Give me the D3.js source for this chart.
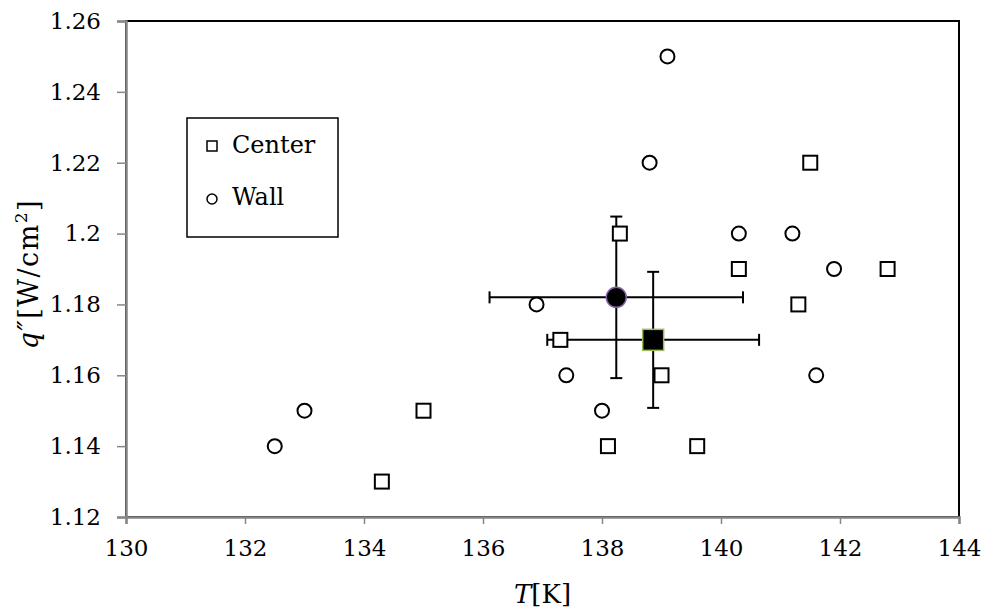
<!DOCTYPE html>
<html>
<head>
<meta charset="utf-8">
<script src="https://cdn.jsdelivr.net/npm/d3@7"></script>
<style>
  html, body { margin: 0; padding: 0; background: #fff; }
  svg { display: block; }
  text { font-family: "DejaVu Serif", "Liberation Serif", serif; fill: #000; }
</style>
</head>
<body>
<svg id="chart" width="987" height="615"></svg>
<script>
// Heat flux vs. temperature, measured at the center and at the wall
const centerT = [134.3, 135.0, 137.3, 138.3, 139.0, 138.1, 139.6, 140.3, 141.3, 141.5, 142.8];
const centerQ = [1.13, 1.15, 1.17, 1.20, 1.16, 1.14, 1.14, 1.19, 1.18, 1.22, 1.19];
const wallT = [132.5, 133.0, 136.9, 137.4, 138.0, 138.8, 139.1, 140.3, 141.2, 141.9, 141.6];
const wallQ = [1.14, 1.15, 1.18, 1.16, 1.15, 1.22, 1.25, 1.20, 1.20, 1.19, 1.16];

// Averages with their error ranges
const meanNames = ["Wall", "Center"];
const meanT = [138.24, 138.86];
const meanQ = [1.182, 1.170];
const errT = [2.13, 1.78];
const errQ = [0.0228, 0.0192];

const xTicks = [130, 132, 134, 136, 138, 140, 142, 144];
const yTicks = [1.12, 1.14, 1.16, 1.18, 1.2, 1.22, 1.24, 1.26];
const legendLabels = ["Center", "Wall"];

const svg = d3.select("#chart");
const x = d3.scaleLinear().domain([130, 144]).range([126, 959]);
const y = d3.scaleLinear().domain([1.12, 1.26]).range([517, 21]);

const axisGrey = "#868686";

// plot frame (top and right)
svg.append("rect")
  .attr("x", x(130)).attr("y", y(1.26))
  .attr("width", x(144) - x(130)).attr("height", y(1.12) - y(1.26))
  .attr("fill", "none").attr("stroke", "#000").attr("stroke-width", 2);

// axes
const xAxis = svg.append("g")
  .attr("transform", `translate(0,${y(1.12)})`)
  .call(d3.axisBottom(x).tickValues(xTicks).tickSize(7).tickPadding(16).tickFormat(d3.format("d")));
const yAxis = svg.append("g")
  .attr("transform", `translate(${x(130)},0)`)
  .call(d3.axisLeft(y).tickValues(yTicks).tickSize(9).tickPadding(16).tickFormat(d => d3.format("")(+d.toFixed(2))));
[xAxis, yAxis].forEach(g => {
  g.select(".domain").attr("stroke", axisGrey).attr("stroke-width", 2.5);
  g.selectAll(".tick line").attr("stroke", axisGrey).attr("stroke-width", 1.5);
  g.selectAll(".tick text")
    .style("font-family", '"DejaVu Serif", serif')
    .style("font-size", "23px").attr("fill", "#000");
});

// error bars
const capW = 6, capH = 6;
const eb = svg.append("g").attr("stroke", "#000").attr("stroke-width", 2).attr("fill", "none");
meanT.forEach((t, i) => {
  const cx = x(t), cy = y(meanQ[i]);
  const x0 = x(t - errT[i]), x1 = x(t + errT[i]);
  const y0 = y(meanQ[i] + errQ[i]), y1 = y(meanQ[i] - errQ[i]);
  eb.append("line").attr("x1", x0).attr("x2", x1).attr("y1", cy).attr("y2", cy);
  eb.append("line").attr("x1", x0).attr("x2", x0).attr("y1", cy - capH).attr("y2", cy + capH);
  eb.append("line").attr("x1", x1).attr("x2", x1).attr("y1", cy - capH).attr("y2", cy + capH);
  eb.append("line").attr("x1", cx).attr("x2", cx).attr("y1", y0).attr("y2", y1);
  eb.append("line").attr("x1", cx - capW).attr("x2", cx + capW).attr("y1", y0).attr("y2", y0);
  eb.append("line").attr("x1", cx - capW).attr("x2", cx + capW).attr("y1", y1).attr("y2", y1);
});

// center measurements: open squares
const sq = 14;
svg.append("g").selectAll("rect").data(centerT).join("rect")
  .attr("x", (d) => x(d) - sq / 2)
  .attr("y", (d, i) => y(centerQ[i]) - sq / 2)
  .attr("width", sq).attr("height", sq)
  .attr("fill", "#fff").attr("stroke", "#000").attr("stroke-width", 2);

// wall measurements: open circles
svg.append("g").selectAll("circle").data(wallT).join("circle")
  .attr("cx", (d) => x(d))
  .attr("cy", (d, i) => y(wallQ[i]))
  .attr("r", 7)
  .attr("fill", "#fff").attr("stroke", "#000").attr("stroke-width", 2);

// averages
svg.append("circle")
  .attr("cx", x(meanT[0])).attr("cy", y(meanQ[0])).attr("r", 10)
  .attr("fill", "#000").attr("stroke", "#8064a2").attr("stroke-width", 1.5);
const msq = 21;
svg.append("rect")
  .attr("x", x(meanT[1]) - msq / 2).attr("y", y(meanQ[1]) - msq / 2)
  .attr("width", msq).attr("height", msq)
  .attr("fill", "#000").attr("stroke", "#9bbb59").attr("stroke-width", 1.5);

// legend
const lg = svg.append("g");
lg.append("rect").attr("x", 187).attr("y", 118).attr("width", 151).attr("height", 119)
  .attr("fill", "#fff").attr("stroke", "#000").attr("stroke-width", 1.5);
lg.append("rect").attr("x", 207).attr("y", 141).attr("width", 10).attr("height", 10)
  .attr("fill", "#fff").attr("stroke", "#000").attr("stroke-width", 1.5);
lg.append("circle").attr("cx", 212).attr("cy", 199).attr("r", 5)
  .attr("fill", "#fff").attr("stroke", "#000").attr("stroke-width", 1.5);
lg.selectAll("text").data(legendLabels).join("text")
  .attr("x", 232).attr("y", (d, i) => i === 0 ? 153 : 205)
  .style("font-size", "24px")
  .text(d => d);

// axis titles
const xt = svg.append("text")
  .attr("x", (x(130) + x(144)) / 2).attr("y", 603)
  .attr("text-anchor", "middle").style("font-size", "26px");
xt.append("tspan").style("font-style", "italic").text("T");
xt.append("tspan").text("[K]");

const yt = svg.append("text")
  .attr("transform", `translate(38,274) rotate(-90)`)
  .attr("text-anchor", "middle").style("font-size", "27px").style("letter-spacing", "1.5px");
yt.append("tspan").style("font-style", "italic").text("q\u2033");
yt.append("tspan").text("[W/cm");
yt.append("tspan").attr("dy", -11).style("font-size", "17px").text("2");
yt.append("tspan").attr("dy", 11).text("]");
</script>
</body>
</html>
